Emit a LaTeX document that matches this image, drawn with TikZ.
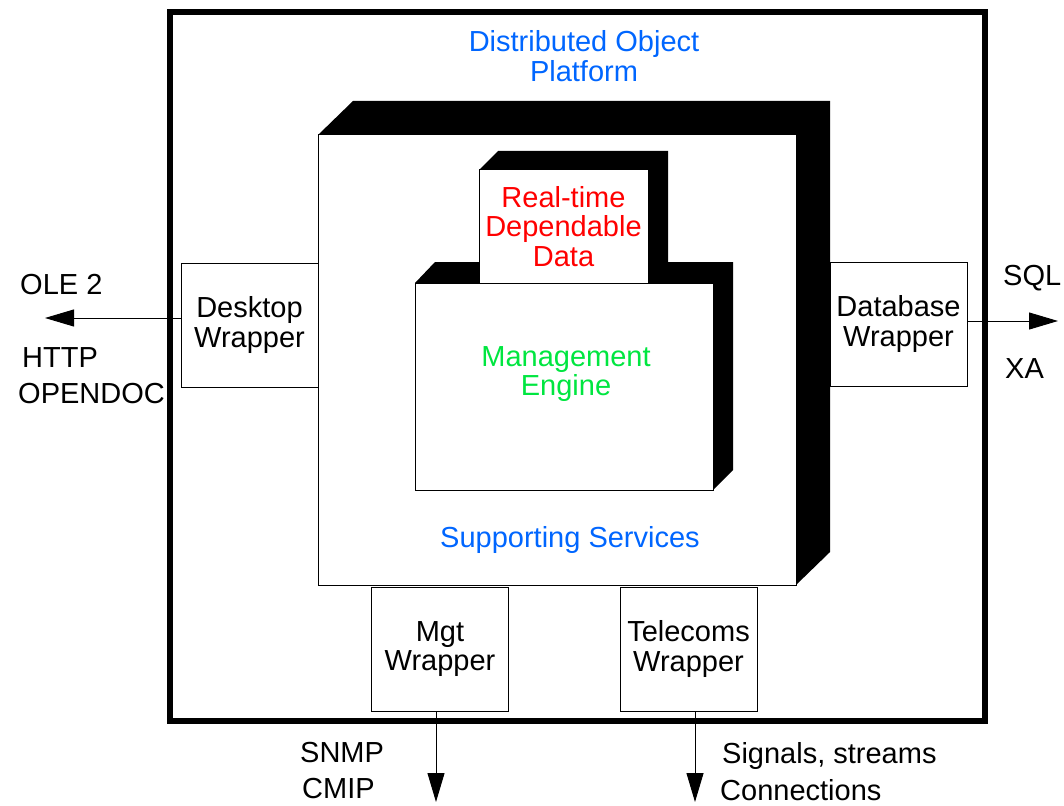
\documentclass[tikz,border=0pt]{standalone}
\usepackage{fontspec}
\setmainfont{Liberation Sans}
\usetikzlibrary{arrows.meta}
\definecolor{dopblue}{RGB}{0,102,255}
\definecolor{megreen}{RGB}{0,230,64}
\definecolor{rtred}{RGB}{255,0,0}
\tikzset{
	lbl/.style={font=\fontsize{29}{29.5}\selectfont, inner sep=0pt},
	wrapper/.style={lbl, draw, fill=white, line width=1pt, minimum width=137pt, minimum height=124pt, align=center},
	face/.style={draw, fill=white, line width=1pt},
	link/.style={line width=1pt, -{Triangle[length=29pt,width=17pt]}},
}
\begin{document}
\begin{tikzpicture}[x=1pt,y=-1pt]
	\useasboundingbox (0,0) rectangle (1064,805);
	\draw[line width=6pt] (170,12) rectangle (985,721);
            \node[lbl, text=dopblue, align=center] (dop) at (584,56) {Distributed Object\\Platform};

            \fill (318,135) -- (353,101) -- (830,101) -- (830,552) -- (796,585) -- (796,135) -- cycle;
            \node[face, minimum width=478pt, minimum height=450pt] (svc) at (557,360) {};
            \node[lbl, text=dopblue] (svctxt) at (570,540) {Supporting Services};

            \fill (415,283) -- (435,262) -- (733,262) -- (733,470) -- (713,490) -- (713,283) -- cycle;
            \node[face, minimum width=298pt, minimum height=207pt] (me) at (564,386.5) {};
            \node[lbl, text=megreen, align=center] (metxt) at (566,374) {Management\\Engine};

            \fill (479,170) -- (498,151) -- (668,151) -- (668,262) -- (648,283) -- (648,170) -- cycle;
            \node[face, lbl, text=rtred, align=center, minimum width=169pt, minimum height=113pt] (rt) at (563.5,226.5) {Real-time\\Dependable\\Data};

            \node[wrapper] (desk) at (249.5,325) {Desktop\\Wrapper};
            \node[wrapper] (db) at (898.5,324) {Database\\Wrapper};
            \node[wrapper] (mgt) at (440,649) {Mgt\\Wrapper};
            \node[wrapper] (tel) at (688.5,649) {Telecoms\\Wrapper};

            \coordinate (ole) at (45,318);
            \coordinate (sql) at (1058,321);
            \coordinate (snmp) at (436,802);
            \coordinate (sig) at (695,802);
            \draw[link] (desk.west |- ole) -- (ole);
            \draw[link] (db.east |- sql) -- (sql);
            \draw[link] (mgt.south -| snmp) -- (snmp);
            \draw[link] (tel.south -| sig) -- (sig);

            \node[lbl, anchor=base west] (oletxt) at (20,294) {OLE 2};
            \node[lbl, anchor=base west] (http) at (22,367) {HTTP};
            \node[lbl, anchor=base west] (odoc) at (18,403) {OPENDOC};
            \node[lbl, anchor=base west] (sqltxt) at (1003,285) {SQL};
            \node[lbl, anchor=base west] (xa) at (1005,378) {XA};
            \node[lbl, anchor=base west] (snmptxt) at (300,762) {SNMP};
            \node[lbl, anchor=base west] (cmip) at (302,798) {CMIP};
            \node[lbl, anchor=base west] (sigtxt) at (722,763) {Signals, streams};
            \node[lbl, anchor=base west] (conn) at (720,800) {Connections};

          %\node at (584,90) {};
        \end{tikzpicture}
\end{document}
